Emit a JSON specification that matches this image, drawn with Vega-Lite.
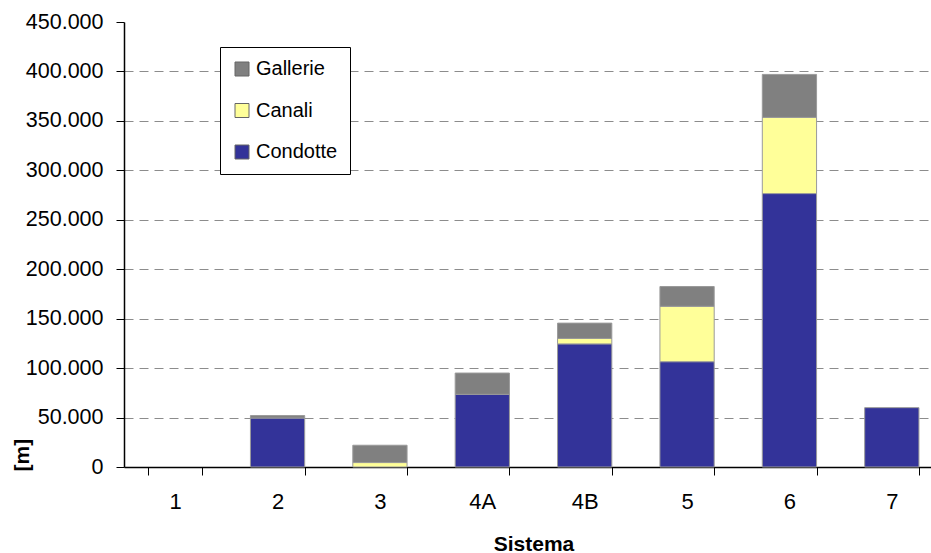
{
  "$schema": "https://vega.github.io/schema/vega-lite/v6.json",
  "autosize": "none",
  "width": 819,
  "height": 445,
  "padding": {"left": 124, "top": 22, "right": 0, "bottom": 86},
  "background": "white",
  "config": {
    "locale": {"number": {"decimal": ",", "thousands": ".", "grouping": [3], "currency": ["€", ""]}},
    "font": "Liberation Sans",
    "view": {"stroke": null}
  },
  "data": {
    "values": [
      {"Sistema": "2", "Tipo": "Condotte", "m": 49500},
      {"Sistema": "2", "Tipo": "Gallerie", "m": 2500},
      {"Sistema": "3", "Tipo": "Canali", "m": 4500},
      {"Sistema": "3", "Tipo": "Gallerie", "m": 17500},
      {"Sistema": "4A", "Tipo": "Condotte", "m": 73500},
      {"Sistema": "4A", "Tipo": "Gallerie", "m": 21500},
      {"Sistema": "4B", "Tipo": "Condotte", "m": 124500},
      {"Sistema": "4B", "Tipo": "Canali", "m": 5500},
      {"Sistema": "4B", "Tipo": "Gallerie", "m": 15500},
      {"Sistema": "5", "Tipo": "Condotte", "m": 106500},
      {"Sistema": "5", "Tipo": "Canali", "m": 56000},
      {"Sistema": "5", "Tipo": "Gallerie", "m": 20000},
      {"Sistema": "6", "Tipo": "Condotte", "m": 276500},
      {"Sistema": "6", "Tipo": "Canali", "m": 77000},
      {"Sistema": "6", "Tipo": "Gallerie", "m": 43500},
      {"Sistema": "7", "Tipo": "Condotte", "m": 60000}
    ]
  },
  "transform": [
    {"calculate": "indexof(['Condotte','Canali','Gallerie'], datum.Tipo)", "as": "ordine"}
  ],
  "mark": {"type": "bar", "stroke": "#9a9a9a", "strokeWidth": 1},
  "encoding": {
    "x": {
      "field": "Sistema",
      "type": "nominal",
      "scale": {"domain": ["1", "2", "3", "4A", "4B", "5", "6", "7"], "paddingInner": 0.47, "paddingOuter": 0.235},
      "axis": {
        "title": "Sistema",
        "titleFont": "Liberation Sans",
        "titleFontSize": 21,
        "titleFontWeight": "bold",
        "titleColor": "black",
        "titlePadding": 21,
        "labelAngle": 0,
        "labelFont": "Liberation Sans",
        "labelFontSize": 22,
        "labelColor": "black",
        "labelPadding": 16,
        "tickBand": "extent",
        "tickSize": 8,
        "tickColor": "black",
        "domainColor": "black",
        "domainWidth": 1.5,
        "grid": false
      }
    },
    "y": {
      "field": "m",
      "type": "quantitative",
      "stack": "zero",
      "scale": {"domain": [0, 450000], "nice": false},
      "axis": {
        "title": "[m]",
        "titleFont": "Liberation Sans",
        "titleFontSize": 21,
        "titleFontWeight": "bold",
        "titleColor": "black",
        "titleAngle": -90,
        "titleX": -102,
        "titleY": 449,
        "titleAlign": "left",
        "titleBaseline": "middle",
        "values": [0, 50000, 100000, 150000, 200000, 250000, 300000, 350000, 400000, 450000],
        "format": ",d",
        "labelFont": "Liberation Sans",
        "labelFontSize": 21.5,
        "labelColor": "black",
        "labelPadding": 13,
        "tickSize": 8,
        "tickColor": "black",
        "domainColor": "black",
        "domainWidth": 1.5,
        "grid": true,
        "gridColor": "#8c8c8c",
        "gridDash": [9, 6],
        "gridWidth": 1,
        "gridOpacity": {"condition": {"test": "datum.value == 450000 || datum.value == 0", "value": 0}, "value": 1}
      }
    },
    "color": {
      "field": "Tipo",
      "type": "nominal",
      "scale": {"domain": ["Gallerie", "Canali", "Condotte"], "range": ["#808080", "#FFFF99", "#333399"]},
      "legend": {
        "title": null,
        "orient": "none",
        "legendX": 96,
        "legendY": 25,
        "symbolType": "square",
        "symbolSize": 196,
        "symbolStrokeColor": "#666666",
        "symbolStrokeWidth": 1,
        "labelFont": "Liberation Sans",
        "labelFontSize": 20,
        "labelColor": "black",
        "labelOffset": 4,
        "rowPadding": 21.5,
        "padding": 12,
        "strokeColor": "black",
        "fillColor": "white"
      }
    },
    "order": {"field": "ordine", "type": "quantitative", "sort": "ascending"}
  }
}
